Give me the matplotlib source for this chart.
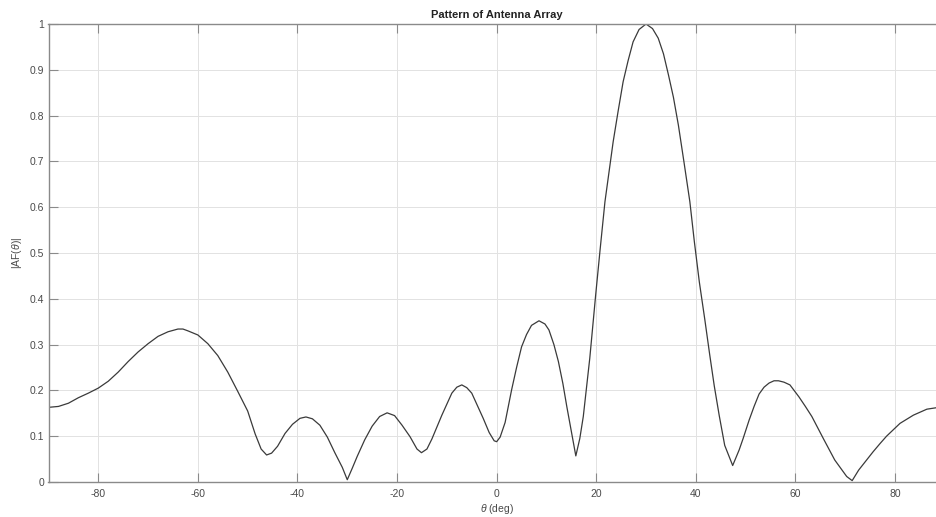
import matplotlib.pyplot as plt

# values
theta_deg = [
    -90.0, -88.0, -86.0, -84.0, -82.0, -80.0, -78.0, -76.0, -74.0, -72.0,
    -70.0, -68.0, -66.0, -64.0, -63.0, -62.0, -60.0, -58.0, -56.0, -54.0,
    -52.0, -50.0, -48.5, -47.3, -46.2, -45.2, -44.0, -42.5, -41.0, -39.5,
    -38.3, -37.0, -35.5, -34.0, -32.5, -31.0, -30.0, -29.0, -28.0, -26.5,
    -25.0, -23.5, -22.0, -20.5, -19.0, -17.4, -16.0, -15.1, -14.0, -13.0,
    -11.0, -9.0, -8.0, -7.0, -6.0, -5.0, -4.0, -2.7, -1.5, -0.5,
    0.0, 0.7, 1.7, 3.0, 4.0, 5.0, 6.0, 7.0, 8.5, 9.7,
    10.5, 11.5, 12.4, 13.3, 14.1, 15.0, 15.9, 16.7, 17.4, 18.7,
    19.9, 20.8, 21.75, 22.6, 23.4, 24.4, 25.4, 26.4, 27.4, 28.6,
    30.0, 31.3, 32.45, 33.5, 34.5, 35.5, 36.5, 37.6, 38.8, 39.7,
    40.7, 41.8, 42.8, 43.7, 44.7, 45.8, 47.4, 48.7, 49.5, 50.7,
    51.7, 52.7, 53.7, 54.7, 55.7, 56.6, 57.7, 58.9, 60.7, 62.0,
    63.3, 65.6, 67.9, 70.3, 71.4, 72.7, 74.0, 75.6, 77.0, 78.3,
    81.0, 83.7, 86.4, 88.2, 90.0,
]
af_mag = [
    0.163, 0.165, 0.172, 0.184, 0.194, 0.205, 0.220, 0.240, 0.263, 0.284,
    0.302, 0.318, 0.328, 0.334, 0.334, 0.330, 0.321, 0.302, 0.276, 0.240,
    0.198, 0.155, 0.105, 0.072, 0.059, 0.063, 0.078, 0.106, 0.126, 0.139,
    0.142, 0.138, 0.124, 0.098, 0.064, 0.032, 0.005, 0.030, 0.056, 0.092,
    0.122, 0.143, 0.151, 0.145, 0.124, 0.099, 0.072, 0.064, 0.072, 0.094,
    0.146, 0.194, 0.207, 0.212, 0.206, 0.194, 0.170, 0.139, 0.108, 0.090,
    0.088, 0.098, 0.130, 0.201, 0.250, 0.295, 0.322, 0.342, 0.352, 0.345,
    0.332, 0.300, 0.263, 0.215, 0.164, 0.110, 0.057, 0.095, 0.143, 0.270,
    0.410, 0.510, 0.612, 0.680, 0.743, 0.810, 0.874, 0.920, 0.961, 0.988,
    1.000, 0.990, 0.969, 0.935, 0.889, 0.840, 0.779, 0.700, 0.612, 0.525,
    0.437, 0.355, 0.277, 0.210, 0.145, 0.080, 0.036, 0.070, 0.095, 0.135,
    0.165, 0.192, 0.207, 0.216, 0.221, 0.221, 0.218, 0.212, 0.186, 0.165,
    0.143, 0.095, 0.048, 0.012, 0.003, 0.026, 0.044, 0.066, 0.084, 0.100,
    0.128, 0.146, 0.159, 0.162, 0.163,
]
x_ticks = [-80, -60, -40, -20, 0, 20, 40, 60, 80]
y_ticks = [0, 0.1, 0.2, 0.3, 0.4, 0.5, 0.6, 0.7, 0.8, 0.9, 1]
y_tick_labels = ["0", "0.1", "0.2", "0.3", "0.4", "0.5", "0.6", "0.7", "0.8", "0.9", "1"]

plt.rcParams["font.family"] = ["Liberation Sans", "DejaVu Sans"]
plt.rcParams["axes.unicode_minus"] = False
plt.rcParams["mathtext.fontset"] = "custom"
plt.rcParams["mathtext.it"] = "Liberation Sans:italic"

fig = plt.figure(figsize=(9.36, 5.17), dpi=100)
# the right edge of the axes runs past the picture, as in the reference
ax = fig.add_axes([48.5 / 936, 1 - 482 / 517, (944.8 - 48.5) / 936, (482 - 24) / 517])

ax.plot(theta_deg, af_mag, color="#3a3a3a", lw=0.9, solid_joinstyle="round")

ax.set_xlim(-90, 90)
ax.set_ylim(0, 1)
ax.set_xticks(x_ticks)
ax.set_yticks(y_ticks)
ax.set_yticklabels(y_tick_labels)
ax.grid(True, color="#e2e2e2", lw=0.7)
ax.set_axisbelow(True)

for sp in ax.spines.values():
    sp.set_color("#8a8a8a")
    sp.set_linewidth(1.0)
ax.tick_params(direction="in", length=6.5, width=0.8, color="#8a8a8a",
               labelsize=7.5, labelcolor="#4a4a4a", top=True, right=True)
ax.tick_params(axis="x", pad=5)
ax.tick_params(axis="y", pad=3)

ax.set_title("Pattern of Antenna Array", fontsize=8, fontweight="bold",
             color="#222222", pad=4)
ax.set_xlabel(r"$\theta$ (deg)", fontsize=7.5, color="#4a4a4a", labelpad=2)
ax.set_ylabel(r"|AF($\theta$)|", fontsize=7.5, color="#4a4a4a", labelpad=4)

fig.savefig("out.png", dpi=100)
